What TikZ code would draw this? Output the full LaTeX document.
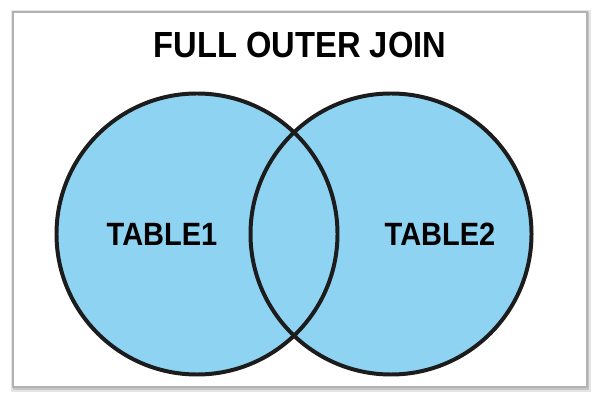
\documentclass[tikz,border=0pt]{standalone}
\usepackage{fontspec}
\setmainfont{Liberation Sans}[FakeStretch=0.9]
\definecolor{vennblue}{HTML}{8ED4F2}
\definecolor{ringblack}{HTML}{1C1C1C}
\tikzset{
    tablename/.style={font=\bfseries\fontsize{27.5}{32}\selectfont, text=black},
    heading/.style={font=\bfseries\fontsize{31}{36}\selectfont, text=black},
    ring/.style={draw=ringblack, line width=3.4pt},
}
\begin{document}
\begin{tikzpicture}[x=0.03cm,y=0.03cm]
    \useasboundingbox (0,0) rectangle (600,400);
    % card with soft shadow
    \fill[gray!20] (11,8) rectangle (591,390);
    \fill[gray!45] (13,10) rectangle (589,388);
    \draw[gray!60, line width=1.2pt, fill=white] (13,13) rectangle (587,388);

    \coordinate (c1) at (197,166);
    \coordinate (c2) at (391,166);
    \fill[vennblue] (c1) circle (140.5) (c2) circle (140.5);
    \draw[ring] (c1) circle (140.5);
    \draw[ring] (c2) circle (140.5);

    \node[heading] (title) at (300,355) {FULL OUTER JOIN};
    \node[tablename] (t1) at (162,166) {TABLE1};
    \node[tablename] (t2) at (440,166) {TABLE2};
\end{tikzpicture}
\end{document}
